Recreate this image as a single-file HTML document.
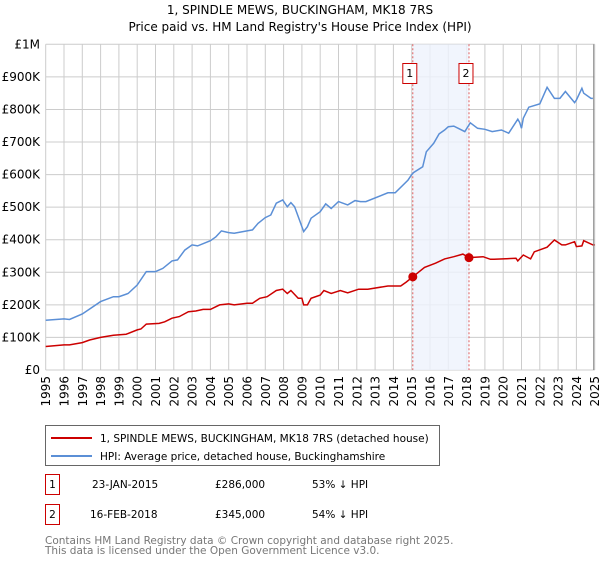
<!DOCTYPE html>
<html><head><meta charset="utf-8"><style>
body{margin:0;background:#fff;font-family:"Liberation Sans","DejaVu Sans",sans-serif;}
svg text{font-family:"DejaVu Sans","Liberation Sans",sans-serif;}
</style></head><body>
<svg id="chart" width="600" height="560" xmlns="http://www.w3.org/2000/svg">
<text x="300" y="14" text-anchor="middle" font-size="12" fill="#000">1, SPINDLE MEWS, BUCKINGHAM, MK18 7RS</text>
<text x="300" y="31" text-anchor="middle" font-size="12" fill="#000">Price paid vs. HM Land Registry's House Price Index (HPI)</text>
<g id="grid"></g><g id="band"></g><g id="series"></g><g id="axes"></g>
<rect x="45.5" y="425.5" width="394" height="40" fill="#fff" stroke="#666"/>
<line x1="51" y1="438" x2="92" y2="438" stroke="#cc0000" stroke-width="2"/>
<text x="100" y="442" font-size="10.5">1, SPINDLE MEWS, BUCKINGHAM, MK18 7RS (detached house)</text>
<line x1="51" y1="456" x2="92" y2="456" stroke="#5b8fd6" stroke-width="2"/>
<text x="100" y="460" font-size="10.5">HPI: Average price, detached house, Buckinghamshire</text>
<g>
<rect x="45.5" y="474.5" width="14" height="20" fill="#fff" stroke="#cc0000"/>
<text x="52.5" y="488" text-anchor="middle" font-size="10.5">1</text>
<text x="92" y="488" font-size="10.5">23-JAN-2015</text>
<text x="215" y="488" font-size="10.5">£286,000</text>
<text x="312" y="488" font-size="10.5">53% ↓ HPI</text></g>
<g>
<rect x="45.5" y="504.5" width="14" height="20" fill="#fff" stroke="#cc0000"/>
<text x="52.5" y="518" text-anchor="middle" font-size="10.5">2</text>
<text x="90" y="518" font-size="10.5">16-FEB-2018</text>
<text x="215" y="518" font-size="10.5">£345,000</text>
<text x="312" y="518" font-size="10.5">54% ↓ HPI</text></g>
<text x="45" y="544" font-size="10.5" fill="#777">Contains HM Land Registry data © Crown copyright and database right 2025.</text>
<text x="45" y="554" font-size="10.5" fill="#777">This data is licensed under the Open Government Licence v3.0.</text>
</svg>
<script>
const yTicks=[0,100,200,300,400,500,600,700,800,900,1000];
const yTickLabels=["£0","£100K","£200K","£300K","£400K","£500K","£600K","£700K","£800K","£900K","£1M"];
const years=[1995,1996,1997,1998,1999,2000,2001,2002,2003,2004,2005,2006,2007,2008,2009,2010,2011,2012,2013,2014,2015,2016,2017,2018,2019,2020,2021,2022,2023,2024,2025];
const hpiT=[1995.0,1996.0,1996.3,1997.0,1998.0,1998.7,1999.0,1999.5,2000.0,2000.5,2001.0,2001.4,2001.9,2002.2,2002.6,2003.0,2003.3,2004.0,2004.3,2004.6,2005.0,2005.3,2006.0,2006.3,2006.6,2007.0,2007.3,2007.6,2007.95,2008.2,2008.4,2008.6,2008.9,2009.0,2009.1,2009.3,2009.5,2010.0,2010.3,2010.6,2011.0,2011.5,2011.9,2012.2,2012.5,2013.7,2014.1,2014.8,2015.0,2015.1,2015.6,2015.8,2016.2,2016.5,2016.8,2017.0,2017.3,2017.9,2018.2,2018.6,2019.0,2019.4,2019.9,2020.3,2020.8,2020.9,2021.0,2021.1,2021.4,2022.0,2022.4,2022.8,2023.1,2023.4,2023.9,2024.0,2024.3,2024.4,2024.8,2024.9];
const hpiV=[153,157,155,172,210,225,225,235,261,302,302,312,335,338,368,384,381,397,409,427,422,420,427,430,450,468,476,512,522,501,514,501,455,440,425,440,466,486,510,496,517,507,520,517,517,544,544,583,600,606,624,670,696,725,737,747,749,732,759,742,739,732,737,727,770,760,742,773,807,817,868,834,834,855,821,829,865,850,834,834];
const ppT=[1995.0,1996.0,1996.3,1997.0,1997.4,1998.0,1998.7,1999.4,2000.0,2000.2,2000.5,2001.2,2001.5,2001.9,2002.3,2002.8,2003.2,2003.6,2004.0,2004.5,2005.0,2005.3,2006.0,2006.3,2006.7,2007.1,2007.6,2007.95,2008.2,2008.4,2008.8,2008.9,2009.0,2009.1,2009.3,2009.5,2010.0,2010.2,2010.6,2011.1,2011.5,2012.1,2012.6,2013.7,2014.4,2014.7,2015.06,2015.7,2016.3,2016.8,2017.3,2017.8,2018.13,2018.9,2019.3,2019.5,2020.7,2020.8,2021.1,2021.5,2021.7,2022.4,2022.8,2023.2,2023.4,2023.9,2024.0,2024.3,2024.4,2024.9,2025.0];
const ppV=[72,77,77,84,92,100,107,110,123,126,141,143,148,159,164,179,181,186,186,200,203,200,205,205,220,225,244,248,235,244,220,220,220,200,200,220,230,244,235,244,237,248,248,258,258,270,286,315,328,341,348,356,345,348,340,340,343,335,353,341,363,377,399,384,384,394,379,381,397,384,384];
const saleT=[2015.06,2018.13];
const saleV=[286,345];
const saleLabels=["1","2"];
const X0=45.7,X1=594.7,Y0=370,Y1=44.3;
const xs=t=>X0+(t-1995)/30*(X1-X0);
const ys=v=>Y0-v/1000*(Y0-Y1);
const NS="http://www.w3.org/2000/svg";
function mk(tag,attrs,parent){const e=document.createElementNS(NS,tag);for(const k in attrs)e.setAttribute(k,attrs[k]);parent.appendChild(e);return e;}
const grid=document.getElementById('grid'),axes=document.getElementById('axes'),band=document.getElementById('band'),series=document.getElementById('series');
yTicks.forEach((v,i)=>{
 const l=mk('line',{x1:X0,x2:X1,y1:ys(v),y2:ys(v),stroke:'#cccccc','stroke-width':1},grid);
 
 
 const t=mk('text',{x:40,y:ys(v)+4,'text-anchor':'end','font-size':12},axes);
 t.textContent=yTickLabels[i];
 
 
});
years.forEach(y=>{
 const l=mk('line',{x1:xs(y),x2:xs(y),y1:Y1,y2:Y0,stroke:'#cccccc','stroke-width':1},grid);
 
 
 const t=mk('text',{x:0,y:0,'text-anchor':'end','font-size':12,transform:`translate(${xs(y)+4.5},376) rotate(-90)`},axes);
 t.textContent=y;
 
 
});
const r=mk('rect',{x:xs(saleT[0]),y:Y1,width:xs(saleT[1])-xs(saleT[0]),height:Y0-Y1,fill:'#edf2fc',opacity:0.8},band);


saleT.forEach((t,i)=>{
 const l=mk('line',{x1:xs(t),x2:xs(t),y1:Y1,y2:Y0,stroke:'#e06060','stroke-width':1,'stroke-dasharray':'2,2'},band);
 
 
 const g=mk('g',{},band);
 
 
 mk('rect',{x:xs(t)-10,y:63.5,width:14,height:20,fill:'#fff',stroke:'#cc0000'},g);
 const tx=mk('text',{x:xs(t)-3,y:77,'text-anchor':'middle','font-size':11},g);tx.textContent=saleLabels[i];
});
const path=(T,V)=>T.map((t,i)=>(i?'L':'M')+xs(t).toFixed(1)+','+ys(V[i]).toFixed(1)).join('');
const h=mk('path',{d:path(hpiT,hpiV),fill:'none',stroke:'#5b8fd6','stroke-width':1.5},series);


const p=mk('path',{d:path(ppT,ppV),fill:'none',stroke:'#cc0000','stroke-width':1.5},series);


saleT.forEach((t,i)=>{
 const c=mk('circle',{cx:xs(t),cy:ys(saleV[i]),r:4.5,fill:'#cc0000'},series);
 
 
});
const e=mk('line',{x1:X1-1,x2:X1-1,y1:Y1,y2:Y0,stroke:'#888','stroke-width':1},axes);


</script>
</body></html>
